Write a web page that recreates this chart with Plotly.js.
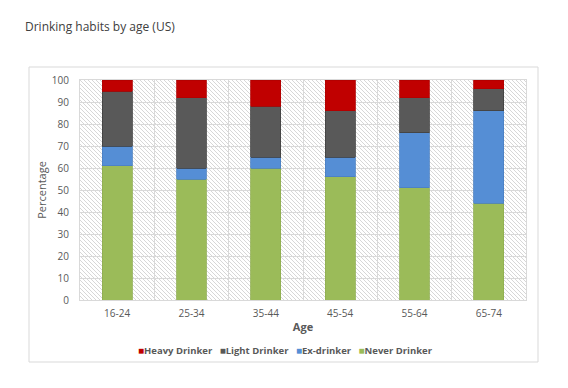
<!DOCTYPE html>
<html><head><meta charset="utf-8">
<script src="https://cdn.plot.ly/plotly-3.0.1.min.js"></script>
<style>html,body{margin:0;padding:0;background:#fff}#c{width:568px;height:388px}</style>
</head><body><div id="c"></div>
<script>
const ageGroups = ["16-24","25-34","35-44","45-54","55-64","65-74"];
const neverDrinker = [61,55,60,56,51,44];
const exDrinker = [9,5,5,9,25,42];
const lightDrinker = [25,32,23,21,16,10];
const heavyDrinker = [5,8,12,14,8,4];
const yTicks = [0,10,20,30,40,50,60,70,80,90,100];
const seriesNames = ["Heavy Drinker","Light Drinker","Ex-drinker","Never Drinker"];
const seriesColors = ["#C00000","#595959","#558ED5","#9BBB59"];

const FONT = "Open Sans, Noto Sans, sans-serif";
function bar(name, vals, color, lineColor){
  return {type:"bar", name:name, x:ageGroups, y:vals, showlegend:false,
    marker:{color:color, line:{color:lineColor, width:0.8}}, hoverinfo:"none"};
}
const traces = [
  bar(seriesNames[3], neverDrinker, seriesColors[3], "#8FAE50"),
  bar(seriesNames[2], exDrinker, seriesColors[2], "#4A7FC2"),
  bar(seriesNames[1], lightDrinker, seriesColors[1], "#404040"),
  bar(seriesNames[0], heavyDrinker, seriesColors[0], "#B00000")
];

const legendText = seriesNames.map((n,i)=>
  '<span style="color:'+seriesColors[i]+';font-size:10px">■</span><b>'+n+'</b>').join('&nbsp;&nbsp;&nbsp;');

const W = 446, H = 220;
const svg = '<svg xmlns="http://www.w3.org/2000/svg" width="'+W+'" height="'+H+'" viewBox="0 0 '+W+' '+H+'" preserveAspectRatio="none">'+
  '<defs><pattern id="p" width="4" height="4" patternUnits="userSpaceOnUse">'+
  '<path d="M0,0 L4,4 M-1,3 L1,5 M3,-1 L5,1" stroke="#d2d2d2" stroke-width="0.9"/></pattern></defs>'+
  '<rect width="'+W+'" height="'+H+'" fill="#ffffff"/><rect width="'+W+'" height="'+H+'" fill="url(#p)"/></svg>';
const src = "data:image/svg+xml;charset=utf-8," + encodeURIComponent(svg);

const layout = {
  width:568, height:388,
  margin:{l:80, r:42, t:80, b:88},
  paper_bgcolor:"#ffffff", plot_bgcolor:"rgba(0,0,0,0)",
  barmode:"stack", bargap:0.6, showlegend:false,
  font:{family:FONT, size:10, color:"#595959"},
  title:{text:"Drinking habits by age (US)", x:25/568, xanchor:"left", y:1-27/388, yanchor:"middle",
    font:{family:FONT, size:12, color:"#404040"}},
  xaxis:{type:"category", tickson:"boundaries", showgrid:true, gridcolor:"#d9d9d9", gridwidth:1,
    ticks:"", showline:true, linecolor:"#d9d9d9", mirror:true, zeroline:false, ticklabelstandoff:4,
    tickfont:{family:FONT, size:10, color:"#595959"},
    title:{text:"<b>Age</b>", standoff:4, font:{family:FONT, size:11, color:"#595959"}}},
  yaxis:{range:[0,100], tickvals:yTicks, showgrid:true, gridcolor:"#d9d9d9", gridwidth:1,
    showline:true, linecolor:"#d9d9d9", mirror:true, zeroline:false, ticks:"", ticklabelstandoff:8,
    tickfont:{family:FONT, size:10, color:"#595959"},
    title:{text:"Percentage", standoff:2, font:{family:FONT, size:11, color:"#595959"}}},
  annotations:[{text:legendText, xref:"paper", yref:"paper", x:(285-80)/446, xanchor:"center",
    y:(300-350)/220, yanchor:"middle", showarrow:false, font:{family:FONT, size:9.5, color:"#595959"}}],
  images:[{source:src, xref:"paper", yref:"paper", x:0, y:1, sizex:1, sizey:1,
    xanchor:"left", yanchor:"top", sizing:"stretch", layer:"below"}],
  shapes:[{type:"rect", xref:"paper", yref:"paper", x0:(29-80)/446, x1:(538-80)/446,
    y0:(300-362)/220, y1:(300-67)/220, line:{color:"#d9d9d9", width:1}, fillcolor:"rgba(0,0,0,0)", layer:"below"}]
};
Plotly.newPlot("c", traces, layout, {displayModeBar:false, staticPlot:true});
</script></body></html>
